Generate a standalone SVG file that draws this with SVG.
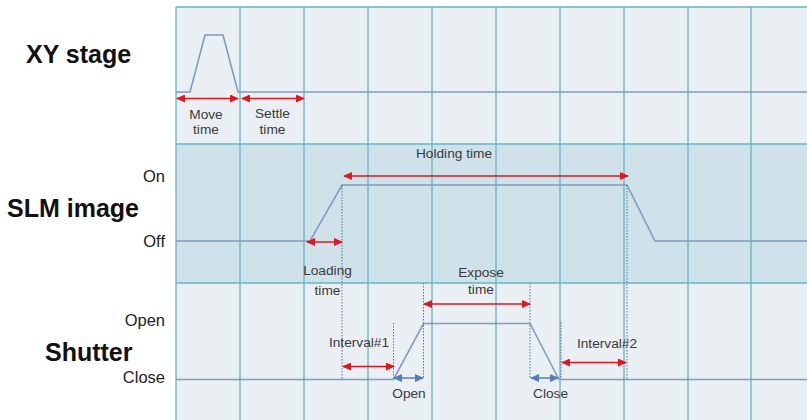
<svg xmlns="http://www.w3.org/2000/svg" width="807" height="420" viewBox="0 0 807 420">
  <style>
    .grid { stroke: #62b4c9; stroke-width: 1.3; fill: none; }
    .sig { stroke: #7f9cc0; stroke-width: 1.6; fill: none; stroke-linejoin: miter; }
    .dot { stroke: #5d7390; stroke-width: 1; stroke-dasharray: 1.5 1.5; fill: none; }
    .red { stroke: #e8141c; stroke-width: 1.5; fill: none; marker-start: url(#redHead); marker-end: url(#redHead); }
    .blue { stroke: #4f7fbf; stroke-width: 1.5; fill: none; marker-start: url(#blueHead); marker-end: url(#blueHead); }
    .title { font-family: "Liberation Sans", Arial, sans-serif; font-weight: bold; font-size: 25px; fill: #111; }
    .axis { font-family: "Liberation Sans", Arial, sans-serif; font-size: 16.5px; fill: #222; text-anchor: end; }
    .lbl { font-family: "Liberation Sans", Arial, sans-serif; font-size: 13.7px; fill: #3a3a3a; text-anchor: middle; }
  </style>
  <defs>
    <marker id="redHead" markerUnits="userSpaceOnUse" markerWidth="9" markerHeight="8" refX="8" refY="4" orient="auto-start-reverse">
      <path d="M0,0 L9,4 L0,8 z" fill="#e8141c"/>
    </marker>
    <marker id="blueHead" markerUnits="userSpaceOnUse" markerWidth="9" markerHeight="8" refX="8" refY="4" orient="auto-start-reverse">
      <path d="M0,0 L9,4 L0,8 z" fill="#4f7fbf"/>
    </marker>
  </defs>

  <rect width="807" height="420" fill="#ffffff"/>

  <!-- chart background and SLM band -->
  <g id="background">
    <rect x="176" y="7" width="631" height="413" fill="#e9eff3"/>
    <rect x="176" y="144" width="631" height="139" fill="#cfe1e9"/>
  </g>

  <!-- grid -->
  <g id="grid" class="grid">
    <line x1="176" y1="7" x2="807" y2="7"/>
    <line x1="176" y1="144" x2="807" y2="144"/>
    <line x1="176" y1="283" x2="807" y2="283"/>
    <line x1="176" y1="7" x2="176" y2="420"/>
    <line x1="240" y1="7" x2="240" y2="420"/>
    <line x1="304" y1="7" x2="304" y2="420"/>
    <line x1="368" y1="7" x2="368" y2="420"/>
    <line x1="432" y1="7" x2="432" y2="420"/>
    <line x1="496" y1="7" x2="496" y2="420"/>
    <line x1="560" y1="7" x2="560" y2="420"/>
    <line x1="624" y1="7" x2="624" y2="420"/>
    <line x1="688" y1="7" x2="688" y2="420"/>
    <line x1="751" y1="7" x2="751" y2="420"/>
  </g>

  <!-- row titles and level labels -->
  <g id="labels">
    <text class="title" x="26" y="63">XY stage</text>
    <text class="title" x="7" y="217">SLM image</text>
    <text class="title" x="45" y="361">Shutter</text>
    <text class="axis" x="165" y="182">On</text>
    <text class="axis" x="165" y="247">Off</text>
    <text class="axis" x="165" y="326">Open</text>
    <text class="axis" x="165" y="383">Close</text>
  </g>

  <!-- signal traces -->
  <g id="signal-xy">
    <polyline class="sig" points="176,92 190,92 205,35 223,35 238,92 807,92"/>
  </g>
  <g id="signal-slm">
    <polyline class="sig" points="176,241 310,241 342,185 627,185 655,241 807,241"/>
  </g>
  <g id="signal-shutter">
    <polyline class="sig" points="176,379.5 393.5,379.5 423.5,323.5 530,323.5 559,379.5 807,379.5"/>
  </g>

  <!-- timing guides and interval arrows -->
  <g id="connectors">
    <line class="dot" x1="342" y1="185" x2="342" y2="379"/>
    <line class="dot" x1="627" y1="185" x2="627" y2="379"/>
    <line class="dot" x1="423.5" y1="283" x2="423.5" y2="379"/>
    <line class="dot" x1="530" y1="283" x2="530" y2="379"/>
    <line class="dot" x1="393.5" y1="323" x2="393.5" y2="379"/>
    <line class="dot" x1="561" y1="322" x2="561" y2="379"/>

    <line class="red" x1="177" y1="98.5" x2="238" y2="98.5"/>
    <line class="red" x1="242" y1="98.5" x2="304" y2="98.5"/>
    <line class="red" x1="344" y1="176" x2="628" y2="176"/>
    <line class="red" x1="307" y1="242" x2="342" y2="242"/>
    <line class="red" x1="424" y1="304" x2="530" y2="304"/>
    <line class="red" x1="343" y1="366.5" x2="394" y2="366.5"/>
    <line class="red" x1="562" y1="362.5" x2="626" y2="362.5"/>

    <line class="blue" x1="394" y1="378" x2="423" y2="378"/>
    <line class="blue" x1="531" y1="378" x2="558" y2="378"/>
  </g>

  <!-- arrow captions -->
  <g id="captions">
    <text class="lbl" x="206" y="119">Move</text>
    <text class="lbl" x="206" y="134">time</text>
    <text class="lbl" x="272.5" y="118">Settle</text>
    <text class="lbl" x="272.5" y="134">time</text>
    <text class="lbl" x="454" y="158">Holding time</text>
    <text class="lbl" x="327.5" y="275">Loading</text>
    <text class="lbl" x="327.5" y="295">time</text>
    <text class="lbl" x="481" y="277">Expose</text>
    <text class="lbl" x="481" y="294">time</text>
    <text class="lbl" x="359" y="346.5">Interval#1</text>
    <text class="lbl" x="607" y="347.5">Interval#2</text>
    <text class="lbl" x="409" y="397.5">Open</text>
    <text class="lbl" x="550.5" y="397.5">Close</text>
  </g>
</svg>
